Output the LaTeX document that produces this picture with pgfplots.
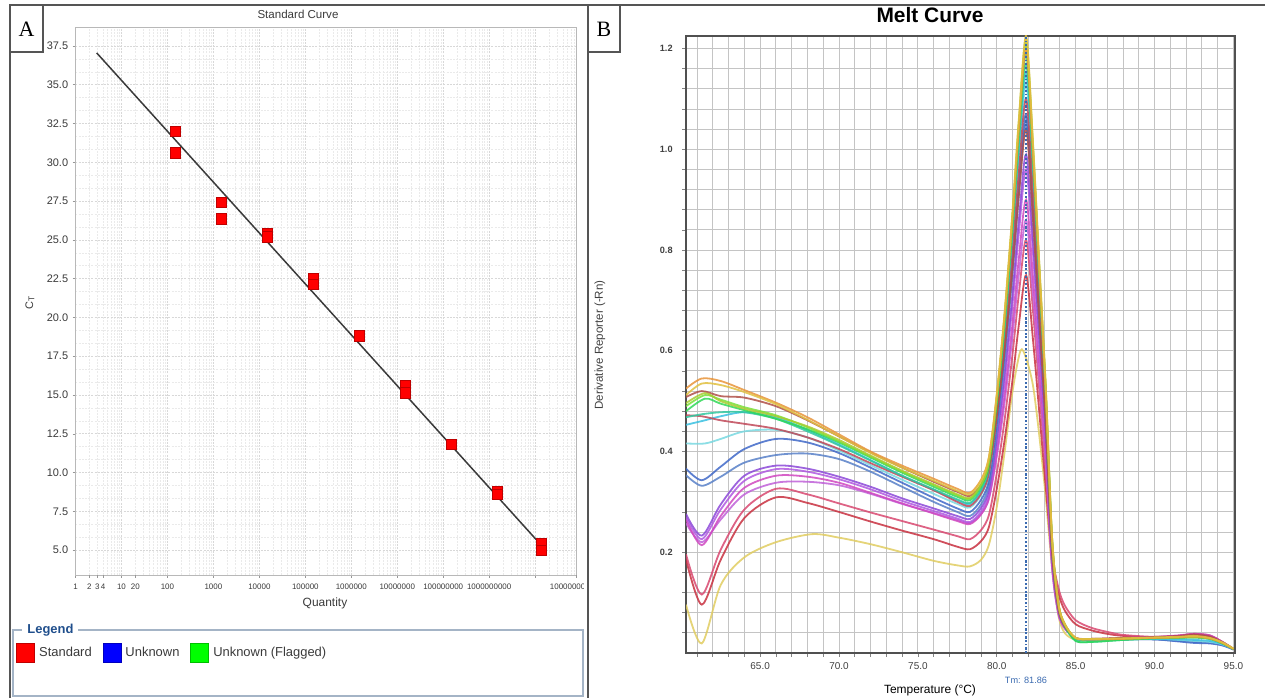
\documentclass[border=0pt]{standalone}
\usepackage{fontspec}
\setmainfont{Liberation Sans}
\newfontfamily\serifA{Liberation Serif}
\usepackage{pgfplots}
\pgfplotsset{compat=1.18}
\newcommand\fs[1]{\fontsize{#1}{#1}\selectfont}
\definecolor{frame}{HTML}{555555}
\definecolor{txtA}{HTML}{3A3A3A}
\definecolor{gridA}{HTML}{D8D8D8}
\definecolor{gridAm}{HTML}{EAEAEA}
\definecolor{legblue}{HTML}{1F4E8C}
\definecolor{legbox}{HTML}{A4B4C6}
\definecolor{gridB}{HTML}{C4C4C4}
\definecolor{axB}{HTML}{505050}
\definecolor{tickB}{HTML}{404040}
\definecolor{tmblue}{HTML}{3A6AB0}
\definecolor{c1}{HTML}{E8943A}
\definecolor{c2}{HTML}{E0C040}
\definecolor{c3}{HTML}{B05048}
\definecolor{c4}{HTML}{A8CC30}
\definecolor{c5}{HTML}{30D858}
\definecolor{c6}{HTML}{78E038}
\definecolor{c7}{HTML}{30C8A0}
\definecolor{c8}{HTML}{C04858}
\definecolor{c9}{HTML}{38C0E0}
\definecolor{c10}{HTML}{78D8E0}
\definecolor{c11}{HTML}{4068C8}
\definecolor{c12}{HTML}{5880C8}
\definecolor{c13}{HTML}{8C48D8}
\definecolor{c14}{HTML}{B058E0}
\definecolor{c15}{HTML}{D048C0}
\definecolor{c16}{HTML}{C060D8}
\definecolor{c17}{HTML}{D84870}
\definecolor{c18}{HTML}{C83040}
\definecolor{c19}{HTML}{E0CC60}
\begin{document}
\begin{tikzpicture}
\path[use as bounding box] (0,0) rectangle (632.5bp,349bp);

% ---------- panel A: standard curve ----------
\begin{axis}[
  at={(37.75bp,61.5bp)}, anchor=south west,
  scale only axis, width=250.5bp, height=273.5bp,
  xmode=log, xmin=1, xmax=7.94e10, ymin=3.4, ymax=38.66,
  xtick={1,10,100,1e3,1e4,1e5,1e6,1e7,1e8,1e9,1e10},
  xticklabels={1,10,100,1000,10000,100000,1000000,10000000,100000000,1000000000,{}},
  extra x ticks={2,3,4,20,7.94e10},
  extra x tick labels={2,3,4,20,100000000000},
  extra x tick style={grid=none},
  minor xtick={2,3,4,5,6,7,8,9,20,30,40,50,60,70,80,90,200,300,400,500,600,700,800,900,
    2e3,3e3,4e3,5e3,6e3,7e3,8e3,9e3,2e4,3e4,4e4,5e4,6e4,7e4,8e4,9e4,
    2e5,3e5,4e5,5e5,6e5,7e5,8e5,9e5,2e6,3e6,4e6,5e6,6e6,7e6,8e6,9e6,
    2e7,3e7,4e7,5e7,6e7,7e7,8e7,9e7,2e8,3e8,4e8,5e8,6e8,7e8,8e8,9e8,
    2e9,3e9,4e9,5e9,6e9,7e9,8e9,9e9,2e10,3e10,4e10,5e10,6e10,7e10},
  ytick={5,7.5,...,37.5}, minor y tick num=2,
  grid=both,
  major grid style={draw=gridA, line width=0.35bp, dash pattern=on 1bp off 0.6bp},
  minor grid style={draw=gridAm, line width=0.3bp, dash pattern=on 1bp off 0.6bp},
  axis line style={draw=gridA!85!black, line width=0.5bp},
  tick pos=left,
  tick align=outside, major tick length=1.5bp, minor tick length=0pt,
  tick style={draw=gridA!70!black, line width=0.3bp},
  /pgf/number format/fixed, /pgf/number format/fixed zerofill,
  /pgf/number format/precision=1, /pgf/number format/assume math mode=true,
  xticklabel style={font=\fs{4}, text=txtA, inner sep=0pt, yshift=-3bp},
  yticklabel style={font=\fs{5.5}, text=txtA, inner sep=0pt, xshift=-2bp},
  legend style={at={(axis description cs:-0.1188,-0.1426)}, anchor=west,
    draw=none, fill=none, inner sep=0pt, font=\fs{6.5}, text=txtA,
    legend columns=3, /tikz/every even column/.append style={column sep=3.5bp}},
  legend cell align=left,
]
\addplot[color=txtA, line width=0.75bp, forget plot] coordinates {(2.9,37.05) (1.35e10,5.33)};
\addplot[only marks, mark=square*, mark size=2.6bp, mark options={fill=red, draw=red!75!black}, forget plot]
  coordinates {
  (150,32.0) (150,30.6) (1500,27.4) (1500,26.35) (15000,25.4) (15000,25.2)
  (150000,22.5) (150000,22.15) (1500000,18.8) (15000000,15.6) (15000000,15.15)
  (150000000,11.8) (1500000000,8.75) (1500000000,8.6) (1.35e10,5.45) (1.35e10,5.0)
  };
\addlegendimage{legend image code/.code={\filldraw[draw=red!75!black, fill=red] (0bp,-4.8bp) rectangle (9bp,4.8bp);}}
\addlegendentry{Standard}
\addlegendimage{legend image code/.code={\filldraw[draw=blue!75!black, fill=blue] (0bp,-4.8bp) rectangle (9bp,4.8bp);}}
\addlegendentry{Unknown}
\addlegendimage{legend image code/.code={\filldraw[draw=green!75!black, fill=green] (0bp,-4.8bp) rectangle (9bp,4.8bp);}}
\addlegendentry{Unknown (Flagged)}
\end{axis}

% ---------- panel B: melt curve ----------
\begin{axis}[
  at={(343bp,22.5bp)}, anchor=south west,
  scale only axis, width=274.5bp, height=308.5bp,
  xmin=60.3, xmax=95.1, ymin=0, ymax=1.225,
  xtick={65,70,...,95}, minor xtick={61,62,...,95},
  ytick={0.2,0.4,0.6,0.8,1.0,1.2},
  minor ytick={0.04,0.08,0.12,0.16,0.24,0.28,0.32,0.36,0.44,0.48,0.52,0.56,0.64,0.68,0.72,0.76,0.84,0.88,0.92,0.96,1.04,1.08,1.12,1.16},
  grid=both,
  major grid style={draw=gridB, line width=0.5bp},
  minor grid style={draw=gridB, line width=0.5bp},
  axis line style={draw=axB, line width=0.8bp},
  tick pos=left,
  tick align=outside, major tick length=2bp, minor tick length=2bp,
  tick style={draw=axB!70, line width=0.4bp},
  /pgf/number format/fixed, /pgf/number format/fixed zerofill,
  /pgf/number format/precision=1, /pgf/number format/assume math mode=true,
  xticklabel style={font=\fs{5}, text=tickB, inner sep=0pt, yshift=-2.5bp},
  yticklabel style={font=\bfseries\fs{4.6}, text=tickB, inner sep=0pt, xshift=-4.5bp},
  every axis plot/.append style={smooth, line width=0.9bp, opacity=0.85},
]
% C19 pale yellow
\addplot[color=c19] coordinates {(60.3,.096)(61.3,.019)(62.5,.135)(64,.190)(66,.220)(68.3,.236)(70,.229)(72,.216)(74,.200)(76,.183)(77.5,.174)(78.3,.172)(79.0,.185)(79.5,.215)(80.0,.290)(80.5,.400)(81.0,.520)(81.5,.600)(81.86,.585)(82.3,.530)(82.7,.430)(83.1,.310)(83.5,.170)(83.9,.075)(84.3,.040)(85.0,.026)(86,.025)(88,.027)(90,.029)(91.5,.030)(92.5,.031)(93.5,.028)(94.3,.019)(95.0,.007)};
% C18 crimson
\addplot[color=c18] coordinates {(60.3,.186)(61.3,.096)(62.5,.185)(64,.268)(66,.309)(68,.298)(70,.280)(72,.261)(74,.243)(76,.226)(77.5,.211)(78.3,.206)(79.0,.222)(79.5,.250)(80.0,.326)(80.5,.424)(81.0,.543)(81.4,.652)(81.86,.750)(82.3,.620)(82.7,.476)(83.1,.331)(83.5,.190)(83.9,.120)(84.3,.085)(85.0,.057)(86,.045)(87,.038)(88,.034)(90,.031)(91.5,.034)(92.5,.037)(93.5,.034)(94.3,.022)(95.0,.008)};
% C17 pink red
\addplot[color=c17] coordinates {(60.3,.196)(61.3,.116)(62.5,.205)(64,.285)(66,.326)(68,.315)(70,.297)(72,.279)(74,.262)(76,.245)(77.5,.232)(78.3,.226)(79.0,.244)(79.5,.274)(80.0,.357)(80.5,.464)(81.0,.594)(81.4,.713)(81.86,.820)(82.3,.677)(82.7,.519)(83.1,.361)(83.5,.200)(83.9,.130)(84.3,.095)(85.0,.065)(86,.050)(87,.042)(88,.036)(90,.032)(91.5,.034)(92.5,.038)(93.5,.035)(94.3,.022)(95.0,.008)};
% C16 orchid
\addplot[color=c16] coordinates {(60.3,.258)(61.3,.220)(62.5,.265)(64,.315)(66,.338)(68,.340)(70,.333)(72,.316)(74,.296)(76,.278)(77.5,.264)(78.3,.258)(79.0,.276)(79.5,.306)(80.0,.390)(80.5,.499)(81.0,.631)(81.4,.752)(81.86,.860)(82.3,.710)(82.7,.544)(83.1,.377)(83.5,.169)(83.9,.078)(84.3,.049)(85.0,.029)(86,.027)(88,.029)(90,.031)(91.5,.033)(92.5,.036)(93.5,.033)(94.3,.021)(95.0,.008)};
% C15 magenta
\addplot[color=c15] coordinates {(60.3,.266)(61.3,.214)(62.5,.272)(64,.328)(66,.352)(68,.350)(70,.338)(72,.318)(74,.297)(76,.277)(77.5,.262)(78.3,.256)(79.0,.275)(79.5,.308)(80.0,.398)(80.5,.514)(81.0,.655)(81.4,.784)(81.86,.900)(82.3,.743)(82.7,.569)(83.1,.394)(83.5,.176)(83.9,.080)(84.3,.050)(85.0,.030)(86,.028)(88,.030)(90,.032)(91.5,.035)(92.5,.038)(93.5,.035)(94.3,.022)(95.0,.008)};
% C14 violet
\addplot[color=c14] coordinates {(60.3,.270)(61.3,.226)(62.5,.285)(64,.342)(66,.365)(68,.360)(70,.345)(72,.325)(74,.302)(76,.282)(77.5,.267)(78.3,.260)(79.0,.281)(79.5,.316)(80.0,.414)(80.5,.540)(81.0,.694)(81.4,.834)(81.86,.960)(82.3,.792)(82.7,.606)(83.1,.419)(83.5,.186)(83.9,.084)(84.3,.051)(85.0,.029)(86,.027)(88,.029)(90,.031)(91.5,.033)(92.5,.035)(93.5,.032)(94.3,.021)(95.0,.008)};
% C13 purple
\addplot[color=c13] coordinates {(60.3,.276)(61.3,.233)(62.5,.295)(64,.352)(66,.372)(68,.366)(70,.350)(72,.330)(74,.307)(76,.287)(77.5,.272)(78.3,.266)(79.0,.288)(79.5,.324)(80.0,.425)(80.5,.556)(81.0,.715)(81.4,.860)(81.86,.990)(82.3,.817)(82.7,.624)(83.1,.432)(83.5,.192)(83.9,.086)(84.3,.052)(85.0,.029)(86,.027)(88,.029)(90,.031)(91.5,.033)(92.5,.036)(93.5,.033)(94.3,.021)(95.0,.008)};
% C12 steel blue
\addplot[color=c12] coordinates {(60.3,.353)(61.3,.332)(62.5,.350)(64,.378)(66,.393)(68,.396)(70,.385)(72,.360)(74,.330)(76,.300)(77.5,.280)(78.3,.272)(79.0,.295)(79.5,.334)(80.0,.443)(80.5,.583)(81.0,.754)(81.4,.910)(81.86,1.050)(82.3,.866)(82.7,.662)(83.1,.457)(83.5,.202)(83.9,.089)(84.3,.054)(85.0,.028)(86,.026)(88,.027)(90,.027)(91.5,.024)(92.5,.022)(93.5,.020)(94.3,.016)(95.0,.007)};
% C11 blue
\addplot[color=c11] coordinates {(60.3,.366)(61.3,.343)(62.5,.370)(64,.405)(66,.425)(68,.418)(70,.397)(72,.368)(74,.338)(76,.308)(77.5,.287)(78.3,.280)(79.0,.304)(79.5,.343)(80.0,.454)(80.5,.596)(81.0,.770)(81.4,.928)(81.86,1.070)(82.3,.882)(82.7,.674)(83.1,.466)(83.5,.205)(83.9,.091)(84.3,.054)(85.0,.028)(86,.026)(88,.027)(90,.027)(91.5,.023)(92.5,.020)(93.5,.019)(94.3,.015)(95.0,.007)};
% C10 light cyan
\addplot[color=c10] coordinates {(60.3,.416)(61.5,.416)(62.5,.425)(64,.440)(66,.443)(68,.428)(70,.402)(72,.373)(74,.344)(76,.316)(77.5,.296)(78.3,.289)(79.0,.314)(79.5,.356)(80.0,.474)(80.5,.625)(81.0,.810)(81.4,.979)(81.86,1.130)(82.3,.932)(82.7,.711)(83.1,.491)(83.5,.215)(83.9,.094)(84.3,.056)(85.0,.028)(86,.026)(88,.027)(90,.028)(91.5,.026)(92.5,.024)(93.5,.022)(94.3,.017)(95.0,.008)};
% C9 cyan
\addplot[color=c9] coordinates {(60.3,.453)(61.5,.462)(62.5,.470)(64,.478)(66,.468)(68,.443)(70,.414)(72,.383)(74,.352)(76,.324)(77.5,.303)(78.3,.296)(79.0,.322)(79.5,.364)(80.0,.484)(80.5,.638)(81.0,.825)(81.4,.996)(81.86,1.150)(82.3,.948)(82.7,.724)(83.1,.499)(83.5,.219)(83.9,.095)(84.3,.056)(85.0,.028)(86,.026)(88,.027)(90,.028)(91.5,.027)(92.5,.026)(93.5,.024)(94.3,.018)(95.0,.008)};
% C8 dark red
\addplot[color=c8] coordinates {(60.3,.472)(61.3,.470)(62.5,.462)(64,.455)(66,.445)(68,.428)(70,.405)(72,.377)(74,.350)(76,.323)(77.5,.300)(78.3,.292)(79.0,.316)(79.5,.357)(80.0,.470)(80.5,.615)(81.0,.793)(81.4,.955)(81.86,1.100)(82.3,.907)(82.7,.693)(83.1,.478)(83.5,.210)(83.9,.092)(84.3,.055)(85.0,.030)(86,.028)(88,.030)(90,.032)(91.5,.034)(92.5,.037)(93.5,.033)(94.3,.021)(95.0,.008)};
% C7 teal
\addplot[color=c7] coordinates {(60.3,.468)(61.3,.474)(62.5,.478)(64,.478)(66,.465)(68,.440)(70,.412)(72,.382)(74,.352)(76,.325)(77.5,.305)(78.3,.298)(79.0,.324)(79.5,.368)(80.0,.490)(80.5,.647)(81.0,.839)(81.4,1.013)(81.86,1.170)(82.3,.964)(82.7,.736)(83.1,.508)(83.5,.222)(83.9,.097)(84.3,.055)(85.0,.024)(86,.022)(88,.026)(90,.029)(91.5,.030)(92.5,.031)(93.5,.028)(94.3,.019)(95.0,.008)};
% C3 brown
\addplot[color=c3] coordinates {(60.3,.508)(61.3,.520)(62.5,.510)(64,.507)(66,.490)(68,.462)(70,.430)(72,.398)(74,.368)(76,.340)(77.5,.320)(78.3,.312)(79.0,.334)(79.5,.370)(80.0,.472)(80.5,.603)(81.0,.763)(81.4,.909)(81.86,1.040)(82.3,.858)(82.7,.655)(83.1,.453)(83.5,.200)(83.9,.089)(84.3,.053)(85.0,.029)(86,.027)(88,.029)(90,.031)(91.5,.033)(92.5,.036)(93.5,.032)(94.3,.021)(95.0,.008)};
% C5 green
\addplot[color=c5] coordinates {(60.3,.480)(61.5,.505)(62.5,.495)(64,.482)(66,.465)(68,.444)(70,.418)(72,.388)(74,.358)(76,.330)(77.5,.310)(78.3,.303)(79.0,.330)(79.5,.374)(80.0,.498)(80.5,.658)(81.0,.853)(81.4,1.030)(81.86,1.190)(82.3,.981)(82.7,.748)(83.1,.516)(83.5,.226)(83.9,.098)(84.3,.055)(85.0,.024)(86,.022)(88,.026)(90,.029)(91.5,.030)(92.5,.031)(93.5,.028)(94.3,.019)(95.0,.008)};
% C6 lime
\addplot[color=c6] coordinates {(60.3,.490)(61.5,.512)(62.5,.503)(64,.488)(66,.472)(68,.448)(70,.420)(72,.390)(74,.360)(76,.333)(77.5,.313)(78.3,.306)(79.0,.333)(79.5,.378)(80.0,.505)(80.5,.668)(81.0,.866)(81.4,1.047)(81.86,1.210)(82.3,.997)(82.7,.761)(83.1,.524)(83.5,.229)(83.9,.099)(84.3,.058)(85.0,.029)(86,.027)(88,.028)(90,.030)(91.5,.031)(92.5,.032)(93.5,.029)(94.3,.020)(95.0,.008)};
% C4 yellow green
\addplot[color=c4] coordinates {(60.3,.496)(61.5,.516)(62.5,.500)(64,.485)(66,.470)(68,.450)(70,.423)(72,.392)(74,.362)(76,.335)(77.5,.315)(78.3,.308)(79.0,.335)(79.5,.381)(80.0,.509)(80.5,.673)(81.0,.873)(81.4,1.056)(81.86,1.220)(82.3,1.005)(82.7,.767)(83.1,.529)(83.5,.231)(83.9,.100)(84.3,.058)(85.0,.030)(86,.028)(88,.029)(90,.030)(91.5,.031)(92.5,.032)(93.5,.029)(94.3,.020)(95.0,.008)};
% C1 orange
\addplot[color=c1] coordinates {(60.3,.525)(61.3,.545)(62.5,.540)(64,.522)(66,.497)(68,.468)(70,.434)(72,.400)(74,.372)(76,.346)(77.5,.326)(78.3,.318)(79.0,.344)(79.5,.389)(80.0,.512)(80.5,.671)(81.0,.865)(81.4,1.041)(81.86,1.200)(82.3,.989)(82.7,.755)(83.1,.520)(83.5,.227)(83.9,.098)(84.3,.057)(85.0,.030)(86,.027)(88,.028)(90,.030)(91.5,.031)(92.5,.033)(93.5,.029)(94.3,.020)(95.0,.008)};
% C2 gold
\addplot[color=c2] coordinates {(60.3,.512)(61.3,.535)(62.5,.532)(64,.518)(66,.494)(68,.463)(70,.430)(72,.397)(74,.368)(76,.342)(77.5,.322)(78.3,.315)(79.0,.342)(79.5,.388)(80.0,.515)(80.5,.679)(81.0,.879)(81.4,1.061)(81.86,1.225)(82.3,1.010)(82.7,.770)(83.1,.531)(83.5,.231)(83.9,.100)(84.3,.058)(85.0,.030)(86,.028)(88,.029)(90,.031)(91.5,.032)(92.5,.034)(93.5,.030)(94.3,.021)(95.0,.009)};
% Tm marker line
\addplot[color=tmblue, densely dotted, line width=0.7bp, opacity=1] coordinates {(81.86,0) (81.86,1.225)};
\end{axis}

% clip the overflowing last tick label of panel A
\fill[white] (292bp,48bp) rectangle (330bp,60bp);

% frames and panel letters
\draw[frame, line width=1bp] (5bp,0) -- (5bp,346.5bp) -- (632.5bp,346.5bp);
\draw[frame, line width=1bp] (294bp,0) -- (294bp,346.5bp);
\draw[frame, line width=0.8bp] (5bp,323bp) -- (21.5bp,323bp) -- (21.5bp,346.5bp);
\draw[frame, line width=0.8bp] (294bp,323bp) -- (310bp,323bp) -- (310bp,346.5bp);
\node[font=\serifA\fs{11}] at (13.25bp,334.5bp) {A};
\node[font=\serifA\fs{11}] at (302bp,334.5bp) {B};

% panel A texts and legend frame
\node[font=\fs{5.8}, text=txtA] at (149bp,342bp) {Standard Curve};
\node[font=\fs{6}, text=txtA] at (162.5bp,47.5bp) {Quantity};
\node[font=\fs{5.5}, text=txtA, rotate=90] at (15bp,197.5bp) {C\raisebox{-0.2ex}{\fs{4.2}T}};
\draw[legbox, line width=0.6bp] (6.5bp,1bp) rectangle (291.5bp,34bp);
\node[anchor=west, fill=white, inner xsep=2.5bp, inner ysep=1bp, font=\bfseries\fs{6.5}, text=legblue] at (11bp,34bp) {Legend};

% panel B texts
\node[font=\bfseries\fs{10.5}] at (465bp,341.5bp) {Melt Curve};
\node[font=\fs{5.8}, text=tickB, rotate=90] at (300bp,176.5bp) {Derivative Reporter (-Rn)};
\node[font=\fs{4.6}, text=tmblue] at (513bp,9bp) {Tm: 81.86};
\node[font=\fs{6}, text=black] at (465bp,3.8bp) {Temperature (°C)};
\end{tikzpicture}
\end{document}
